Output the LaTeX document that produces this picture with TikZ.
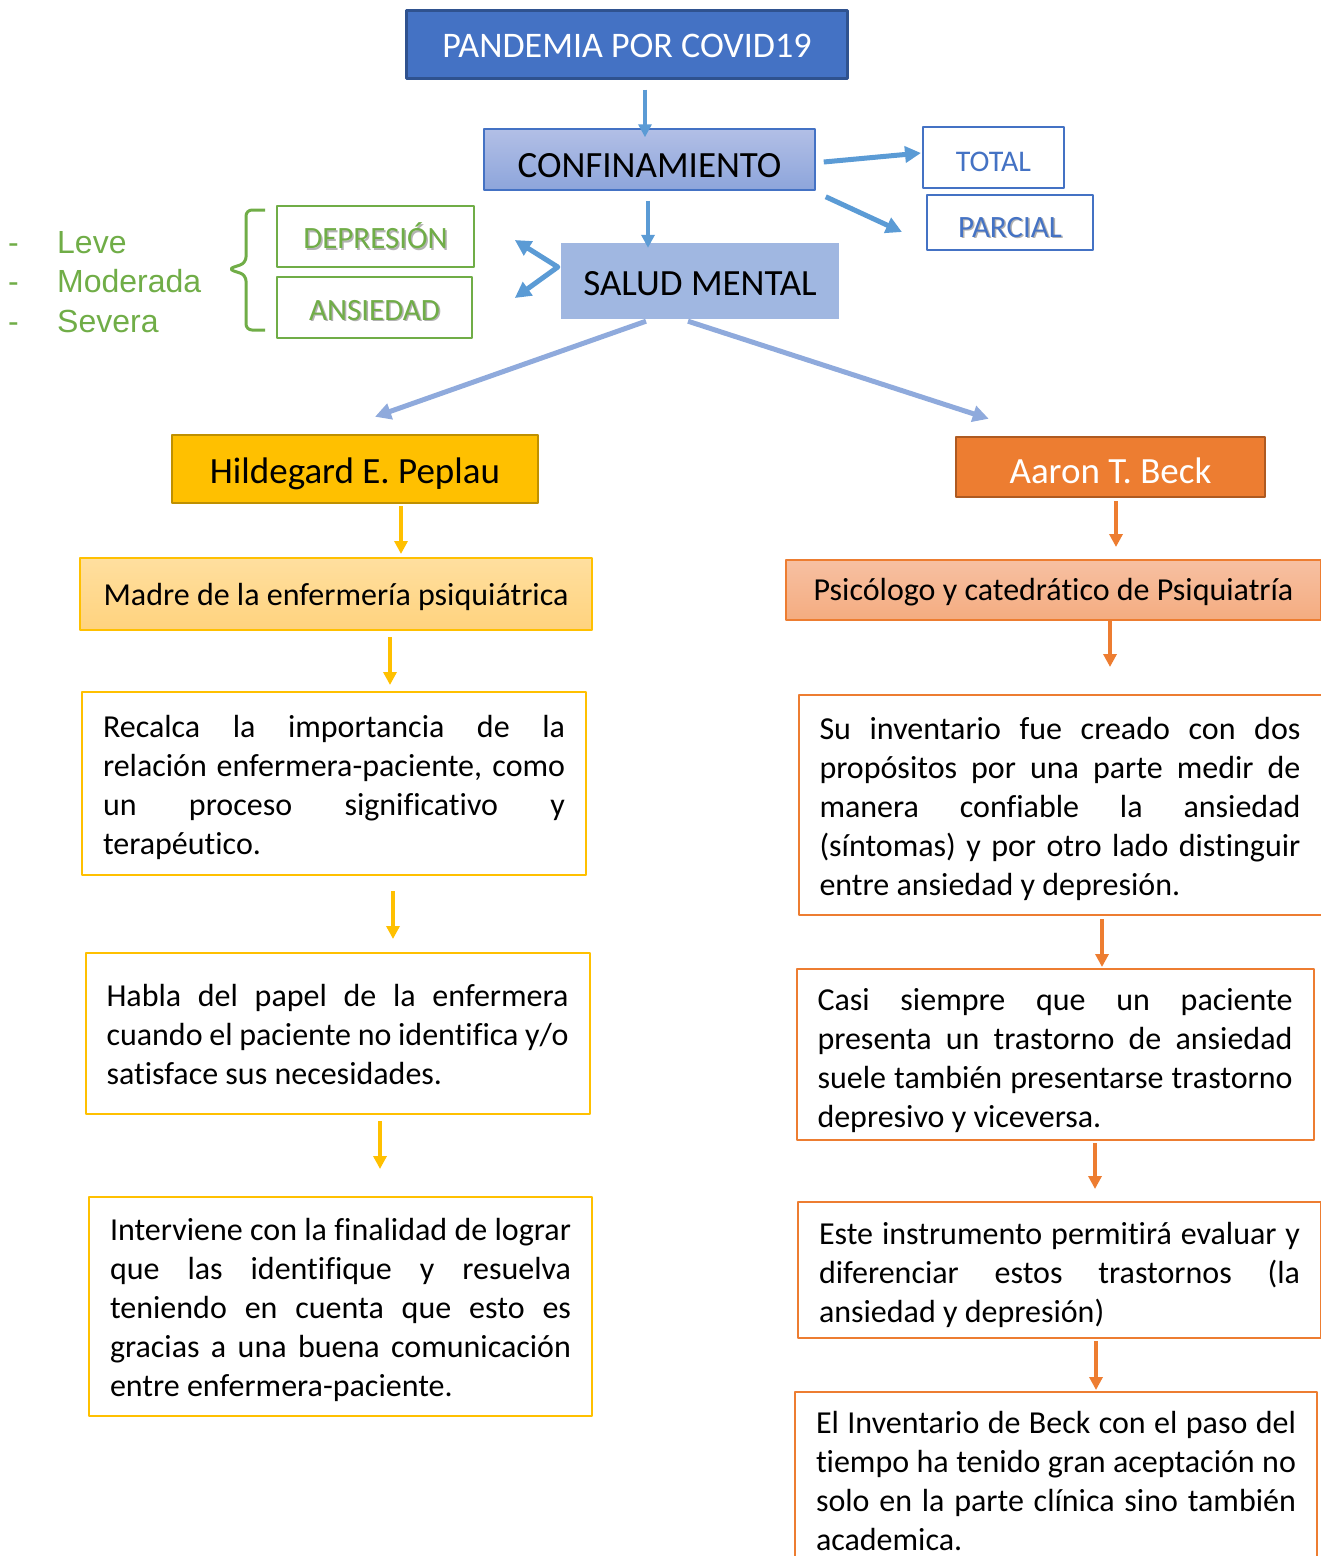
\documentclass[tikz,border=0pt]{standalone}
\usepackage{fontspec}
\setmainfont[Ligatures=NoCommon]{Carlito}
\newfontfamily\arialfont{Liberation Sans}
\usetikzlibrary{positioning,arrows.meta}

\definecolor{pandblue}{HTML}{4472C4}
\definecolor{panddark}{HTML}{2F528F}
\definecolor{arrblue}{HTML}{5B9BD5}
\definecolor{conftop}{HTML}{B2BFE6}
\definecolor{confbot}{HTML}{8DA5DB}
\definecolor{saludfill}{HTML}{A0B7E1}
\definecolor{diagblue}{HTML}{8FAADC}
\definecolor{leafgreen}{HTML}{70AD47}
\definecolor{gold}{HTML}{FFC000}
\definecolor{golddark}{HTML}{BF9000}
\definecolor{madretop}{HTML}{FFDF9F}
\definecolor{madrebot}{HTML}{FFD37E}
\definecolor{orng}{HTML}{ED7D31}
\definecolor{orngdark}{HTML}{AE5A21}
\definecolor{psicotop}{HTML}{F7C0A2}
\definecolor{psicobot}{HTML}{F4AC80}

\newcommand{\fsz}[2]{\fontsize{#1}{#2}\selectfont}
\newcommand{\shtext}[1]{\rlap{\kern1.5pt\raisebox{-1.5pt}{\textcolor{black!30}{#1}}}#1}
\newcommand{\ptop}[1]{\rule{0pt}{#1pt}}
\newcommand{\pbot}{\rule[-9pt]{0pt}{9pt}}

\tikzset{
  headbox/.style={rectangle, inner sep=0pt, text depth=0pt},
  parbox/.style={rectangle, draw=#1, line width=2pt, fill=white, inner xsep=21pt,
    align=justify, font={\fsz{32}{39}\tolerance=10000 \hyphenpenalty=10000 }},
  arr/.style={draw=#1, line width=4pt, -{Triangle[length=13pt,width=13pt]}},
  fatarr/.style={draw=#1, line width=5pt, -{Triangle[length=16pt,width=16pt]}},
  brace/.style={draw=leafgreen, line width=3pt, rounded corners=6pt}
}

\begin{document}
\begin{tikzpicture}[x=1pt,y=-1pt, line join=round]
\clip (0,0) rectangle (1321,1556);

% Top chain
\node[headbox, draw=panddark, line width=3pt, fill=pandblue, text=white,
  minimum width=441pt, minimum height=68pt, text height=26.7pt,
  font=\fsz{36}{43}] (pandemia) at (627,44.5) {PANDEMIA POR COVID19};
\node[headbox, draw=pandblue, line width=1.5pt, top color=conftop, bottom color=confbot,
  minimum width=331pt, minimum height=61pt, text height=36pt,
  font=\fsz{37}{44}] (conf) at (649.5,159.5) {CONFINAMIENTO};
\node[headbox, fill=saludfill, minimum width=278pt, minimum height=76pt,
  text height=28pt, font=\fsz{37}{44}] (salud) at (700,281) {SALUD MENTAL};

% Total / parcial
\node[headbox, draw=pandblue, line width=2pt, fill=white, text=pandblue,
  minimum width=141pt, minimum height=61pt, text height=27pt,
  font=\fsz{30}{36}] (total) at (993.5,157.5) {TOTAL};
\node[headbox, draw=pandblue, line width=2pt, fill=white, text=pandblue,
  minimum width=166pt, minimum height=55pt, text height=29.6pt,
  font=\fsz{31}{37}] (parcial) at (1010,222.5) {\shtext{PARCIAL}};

% Depresion / ansiedad
\node[headbox, draw=leafgreen, line width=2pt, fill=white, text=leafgreen,
  minimum width=197pt, minimum height=61pt, text height=24.2pt,
  font=\fsz{31}{37}] (depresion) at (375.5,236.5) {\shtext{DEPRESIÓN}};
\node[headbox, draw=leafgreen, line width=2pt, fill=white, text=leafgreen,
  minimum width=195pt, minimum height=61pt, text height=25.6pt,
  font=\fsz{31}{37}] (ansiedad) at (374.5,307.5) {\shtext{ANSIEDAD}};
\node[anchor=west, align=left, inner sep=0pt, text=leafgreen,
  font=\arialfont\fsz{32}{39.5}] (grados) at (8,282)
  {\makebox[49pt][l]{-}Leve\\ \makebox[49pt][l]{-}Moderada\\ \makebox[49pt][l]{-}Severa};
\draw[brace] (265,210) -- (246,210) -- (246,263) -- (228,269) -- (246,275) -- (246,330) -- (265,330);

% Peplau column
\node[headbox, draw=golddark, line width=2.5pt, fill=gold, minimum width=366pt,
  minimum height=68pt, text height=28.7pt, font=\fsz{37}{44}] (hilde) at (355,469) {Hildegard E. Peplau};
\node[headbox, draw=gold, line width=2pt, top color=madretop, bottom color=madrebot,
  minimum width=512pt, minimum height=72pt, text height=23.2pt,
  font=\fsz{32}{39}] (madre) at (336,594) {Madre de la enfermería psiquiátrica};
\node[parbox=gold, text width=462pt, minimum height=183pt] (recalca) at (334,783.5)
  {\ptop{33}Recalca la importancia de la\linebreak relación enfermera-paciente, como\linebreak
   un proceso significativo y\linebreak terapéutico.\pbot};
\node[parbox=gold, text width=462pt, minimum height=161pt] (habla) at (337.5,1033.5)
  {\ptop{33}Habla del papel de la enfermera\linebreak cuando el paciente no identifica y/o\linebreak
   satisface sus necesidades.\pbot};
\node[parbox=gold, text width=461pt, minimum height=219pt] (interviene) at (340.5,1306.5)
  {\ptop{33}Interviene con la finalidad de lograr\linebreak que las identifique y resuelva\linebreak
   teniendo en cuenta que esto es\linebreak gracias a una buena comunicación\linebreak
   entre enfermera-paciente.\pbot};
\draw[arr=gold, shorten <=2pt, shorten >=3pt] (hilde.south -| 401,0) -- (madre.north -| 401,0);
\draw[arr=gold, shorten <=6pt, shorten >=6pt] (madre.south -| 390,0) -- (recalca.north -| 390,0);
\draw[arr=gold, shorten <=15pt, shorten >=13pt] (recalca.south -| 393,0) -- (habla.north -| 393,0);
\draw[arr=gold, shorten <=6pt, shorten >=27pt] (habla.south -| 380,0) -- (interviene.north -| 380,0);

% Beck column
\node[headbox, draw=orngdark, line width=2.5pt, fill=orng, text=white, minimum width=309pt,
  minimum height=60pt, text height=33.3pt, font=\fsz{37}{44}] (aaron) at (1110.5,467) {Aaron T. Beck};
\node[headbox, draw=orng, line width=2pt, top color=psicotop, bottom color=psicobot,
  minimum width=535pt, minimum height=60pt, text height=21pt,
  font=\fsz{32}{39}] (psico) at (1053.5,590) {Psicólogo y catedrático de Psiquiatría};
\node[parbox=orng, text width=481pt, minimum height=220pt] (inventario) at (1060,805)
  {\ptop{33}Su inventario fue creado con dos\linebreak propósitos por una parte medir de\linebreak
   manera confiable la ansiedad\linebreak (síntomas) y por otro lado distinguir\linebreak
   entre ansiedad y depresión.\pbot};
\node[parbox=orng, text width=475pt, minimum height=171pt] (casi) at (1055,1054.5)
  {\ptop{37}Casi siempre que un paciente\linebreak presenta un trastorno de ansiedad\linebreak
   suele también presentarse trastorno\linebreak depresivo y viceversa.\pbot};
\node[parbox=orng, text width=481pt, minimum height=136pt] (instrumento) at (1059.5,1270)
  {\ptop{35}Este instrumento permitirá evaluar y\linebreak diferenciar estos trastornos (la\linebreak
   ansiedad y depresión)\pbot};
\node[parbox=orng, text width=480pt, inner ysep=17pt, anchor=north] (beckinv) at (1056,1391)
  {\ptop{24}El Inventario de Beck con el paso del\linebreak tiempo ha tenido gran aceptación no\linebreak
   solo en la parte clínica sino también\linebreak academica.\pbot};
\draw[arr=orng, shorten <=3pt, shorten >=12pt] (aaron.south -| 1116,0) -- (psico.north -| 1116,0);
\draw[arr=orng, shorten >=27pt] (psico.south -| 1110,0) -- (inventario.north -| 1110,0);
\draw[arr=orng, shorten <=3pt, shorten >=1pt] (inventario.south -| 1102,0) -- (casi.north -| 1102,0);
\draw[arr=orng, shorten <=2pt, shorten >=12pt] (casi.south -| 1095,0) -- (instrumento.north -| 1095,0);
\draw[arr=orng, shorten <=2pt, shorten >=1pt] (instrumento.south -| 1096,0) -- (beckinv.north -| 1096,0);

% Arrows at the top
\draw[arr=arrblue, shorten <=9.5pt, shorten >=-9pt] (pandemia.south -| 645,0) -- (conf.north -| 645,0);
\draw[arr=arrblue, shorten <=10pt, shorten >=-5pt] (conf.south -| 648,0) -- (salud.north -| 648,0);
\draw[fatarr=arrblue] ([shift={(8,2.5)}]conf.east) -- ([shift={(-1,-4.5)}]total.west);
\draw[fatarr=arrblue] ([shift={(10,6)}]conf.south east) -- ([shift={(-24,9.5)}]parcial.west);
\draw[fatarr=arrblue, {Triangle[length=16pt,width=16pt]}-{Triangle[length=16pt,width=16pt]}]
  ([shift={(-46,-41)}]salud.west) -- ([shift={(-3,-14)}]salud.west) -- ([shift={(-46,17)}]salud.west);
\draw[fatarr=diagblue] ([shift={(-54,2)}]salud.south) -- ([shift={(20,-17)}]hilde.north);
\draw[fatarr=diagblue] ([shift={(-12,2)}]salud.south) -- ([shift={(34,-17)}]aaron.north west);
\end{tikzpicture}
\end{document}
